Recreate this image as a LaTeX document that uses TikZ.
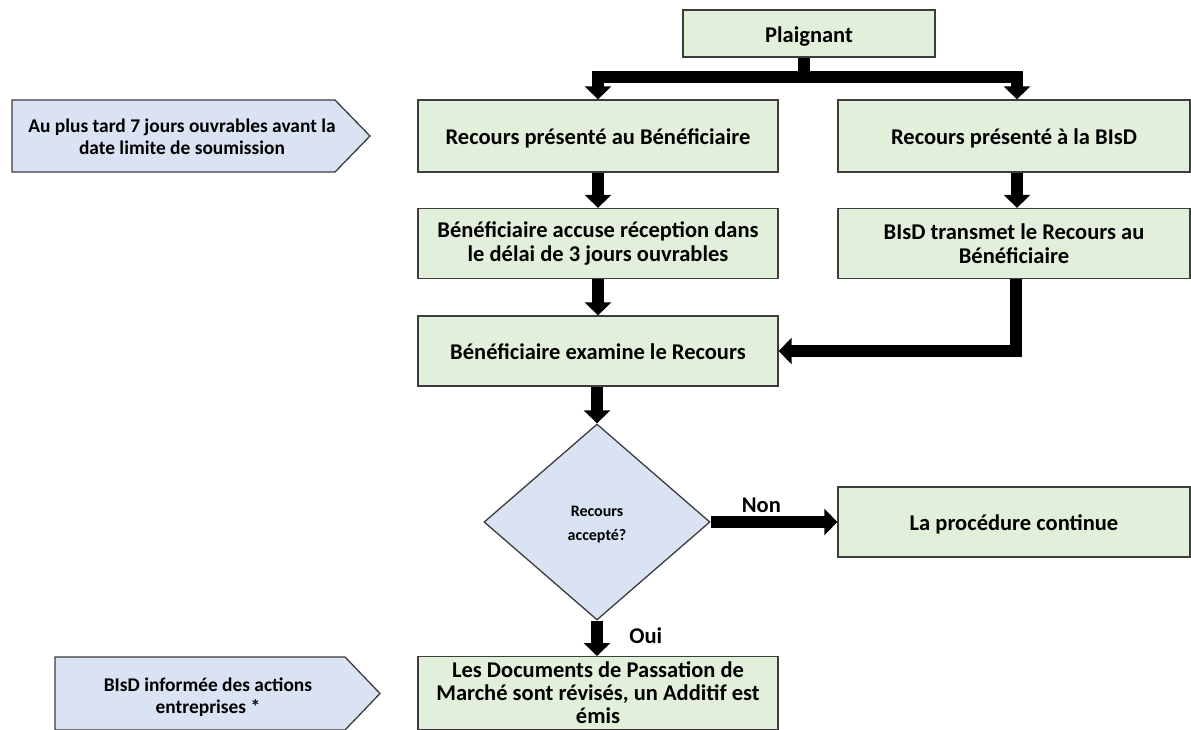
\documentclass[tikz,border=0pt]{standalone}
\usepackage{fontspec}
\setmainfont{Carlito}
\usetikzlibrary{arrows.meta,shapes.geometric}
\definecolor{gfill}{HTML}{E2EFDA}
\definecolor{bfill}{HTML}{DAE3F3}
\definecolor{edgec}{HTML}{3C3C3C}
\begin{document}
\begin{tikzpicture}[x=1pt,y=-1pt,
  gbox/.style={draw=edgec, line width=1.3pt, fill=gfill, minimum width=360pt, minimum height=70pt, inner sep=0pt, align=center, font=\fontsize{22.5}{23.5}\selectfont\bfseries},
  rbox/.style={gbox, minimum width=352pt},
  oneline/.style={text height=19pt, text depth=2pt},
  pent/.style={draw=edgec, line width=1.3pt, fill=bfill},
  ptext/.style={align=center, font=\fontsize{19.4}{22.5}\selectfont\bfseries},
  bigarrow/.style={line width=12pt, line join=miter, -{Triangle[width=26pt,length=13pt]}},
  lbl/.style={font=\fontsize{22.5}{24}\selectfont\bfseries}
]
\useasboundingbox (0,0) rectangle (1191,729);
\clip (0,0) rectangle (1191,729);

% nodes
\node[gbox, oneline, minimum width=252pt, minimum height=47pt] (plaig) at (809,33.5) {Plaignant};
\node[gbox, oneline, minimum height=72pt] (recB) at (598,136) {Recours présenté au Bénéficiaire};
\node[rbox, oneline, minimum height=72pt] (recI) at (1014,136) {Recours présenté à la BIsD};
\node[gbox] (accB) at (598,243.5) {Bénéficiaire accuse réception dans\\le délai de 3 jours ouvrables};
\node[rbox] (trans) at (1014,243.5) {BIsD transmet le Recours au\\Bénéficiaire};
\node[gbox, oneline] (exam) at (598,351) {Bénéficiaire examine le Recours};
\node[draw=edgec, line width=1.3pt, fill=bfill, diamond, minimum width=226pt, minimum height=196pt, inner sep=0pt,
  label={[align=center, font=\fontsize{16}{24}\selectfont\bfseries, yshift=-3pt]center:Recours\\accepté?}] (dia) at (597,522) {};
\node[rbox, oneline] (cont) at (1014,522) {La procédure continue};
\node[gbox, minimum height=73pt, anchor=north, font=\fontsize{22.5}{23}\selectfont\bfseries] (docs) at (598,656) {Les Documents de Passation de\\Marché sont révisés, un Additif est\\émis};

% side pentagons
\draw[pent] (12,100) -- (335,100) -- (370,136) -- (335,172) -- (12,172) -- cycle;
\node[ptext] (note1) at (182,137) {Au plus tard 7 jours ouvrables avant la\\date limite de soumission};
\draw[pent] (55,657) -- (345,657) -- (380,693.5) -- (345,730) -- (55,730) -- cycle;
\node[ptext] (note2) at (208,697) {BIsD informée des actions\\entreprises *};

% connectors
\draw[bigarrow] (plaig.south -| 804,0) -- (804,77) -| (recB.north);
\draw[bigarrow] (plaig.south -| 804,0) -- (804,77) -| ([xshift=3pt]recI.north);
\draw[bigarrow] (recB) -- (accB);
\draw[bigarrow] ([xshift=3pt]recI.south) -- ([xshift=3pt]trans.north);
\draw[bigarrow] (accB) -- (exam);
\draw[bigarrow] ([xshift=2pt]trans.south) |- (exam.east);
\draw[bigarrow] (exam.south -| dia.north) -- (dia.north);
\draw[bigarrow] (dia.east) -- node[lbl, pos=0.4, above=0pt] {Non} (cont.west);
\draw[bigarrow] (dia.south) -- node[lbl, right=23pt, yshift=3pt] {Oui} (dia.south |- docs.north);
\end{tikzpicture}
\end{document}
